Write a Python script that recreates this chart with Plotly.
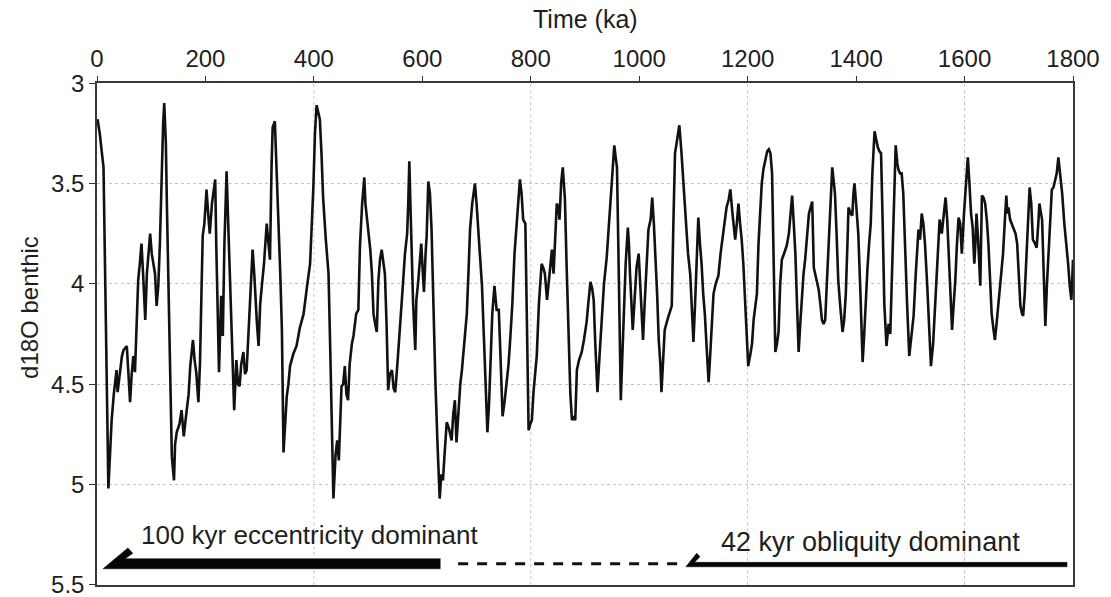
import plotly.graph_objects as go

# ---- data: benthic d18O record ----
time_ka = [1, 5, 12, 17, 21, 24, 27, 31, 36, 38, 42, 46, 49, 55, 58, 61, 64, 67, 70, 73, 76, 79, 82, 85, 89, 92, 95, 98, 101, 103, 107, 110, 113, 116, 119, 122, 124, 127, 129, 131, 134, 138, 142, 144, 147, 152, 156, 160, 165, 169, 172, 177, 180, 183, 187, 190, 193, 195, 198, 202, 205, 208, 212, 215, 218, 220, 223, 225, 229, 232, 235, 239, 242, 245, 249, 253, 257, 260, 263, 266, 270, 273, 276, 280, 284, 287, 290, 292, 295, 298, 301, 304, 308, 313, 316, 319, 322, 324, 328, 331, 334, 338, 341, 344, 347, 350, 353, 356, 362, 368, 374, 381, 387, 393, 399, 402, 405, 408, 411, 414, 417, 422, 427, 430, 433, 436, 440, 443, 446, 449, 451, 454, 457, 460, 463, 466, 470, 473, 478, 482, 485, 489, 493, 495, 498, 501, 504, 507, 510, 513, 516, 519, 522, 525, 528, 531, 534, 537, 540, 544, 547, 550, 554, 559, 563, 568, 572, 574, 576, 578, 580, 583, 587, 589, 592, 595, 598, 601, 603, 606, 608, 611, 614, 617, 620, 624, 628, 632, 635, 638, 641, 645, 649, 654, 657, 660, 663, 667, 670, 673, 677, 682, 685, 688, 692, 697, 700, 703, 707, 710, 714, 717, 720, 723, 725, 727, 729, 733, 737, 741, 744, 748, 752, 755, 759, 762, 766, 770, 775, 780, 783, 786, 790, 793, 796, 799, 802, 805, 808, 811, 815, 820, 823, 826, 830, 834, 839, 842, 845, 848, 851, 853, 856, 859, 861, 863, 866, 870, 873, 876, 879, 882, 885, 889, 894, 898, 903, 906, 910, 913, 916, 919, 923, 927, 931, 935, 940, 943, 946, 950, 954, 957, 959, 962, 966, 969, 972, 975, 979, 981, 983, 986, 988, 991, 995, 999, 1003, 1007, 1010, 1014, 1017, 1021, 1024, 1027, 1030, 1033, 1036, 1039, 1041, 1044, 1047, 1052, 1056, 1060, 1063, 1066, 1070, 1074, 1078, 1082, 1086, 1090, 1094, 1097, 1100, 1103, 1106, 1109, 1112, 1115, 1118, 1121, 1124, 1128, 1131, 1134, 1137, 1141, 1146, 1150, 1155, 1158, 1161, 1165, 1168, 1172, 1177, 1180, 1183, 1186, 1189, 1192, 1194, 1198, 1201, 1205, 1208, 1211, 1214, 1217, 1220, 1223, 1226, 1229, 1233, 1236, 1239, 1242, 1245, 1248, 1251, 1254, 1257, 1260, 1263, 1267, 1272, 1276, 1279, 1282, 1285, 1288, 1291, 1294, 1297, 1300, 1303, 1306, 1310, 1313, 1316, 1319, 1322, 1326, 1331, 1334, 1337, 1340, 1343, 1346, 1349, 1352, 1356, 1359, 1361, 1364, 1367, 1371, 1375, 1378, 1381, 1384, 1386, 1390, 1393, 1395, 1397, 1400, 1404, 1408, 1412, 1415, 1418, 1421, 1424, 1427, 1430, 1434, 1437, 1440, 1443, 1446, 1449, 1452, 1456, 1460, 1463, 1467, 1470, 1473, 1476, 1478, 1481, 1484, 1487, 1490, 1494, 1498, 1502, 1506, 1510, 1515, 1518, 1521, 1524, 1527, 1531, 1535, 1538, 1542, 1546, 1550, 1554, 1558, 1562, 1565, 1568, 1571, 1574, 1577, 1580, 1583, 1586, 1589, 1592, 1595, 1599, 1603, 1606, 1609, 1612, 1615, 1618, 1620, 1622, 1625, 1629, 1632, 1635, 1638, 1641, 1644, 1646, 1650, 1653, 1656, 1659, 1662, 1665, 1668, 1671, 1674, 1677, 1679, 1681, 1684, 1687, 1690, 1694, 1697, 1700, 1703, 1706, 1708, 1711, 1714, 1717, 1720, 1723, 1726, 1730, 1733, 1736, 1738, 1741, 1743, 1746, 1749, 1752, 1755, 1758, 1761, 1764, 1767, 1770, 1773, 1776, 1780, 1784, 1788, 1791, 1794, 1797, 1799, 1800]
d18o = [3.18, 3.25, 3.42, 4.3, 5.02, 4.85, 4.68, 4.55, 4.43, 4.54, 4.45, 4.36, 4.33, 4.31, 4.45, 4.59, 4.45, 4.36, 4.44, 4.2, 3.98, 3.9, 3.8, 3.95, 4.18, 3.95, 3.85, 3.75, 3.85, 3.88, 3.95, 4.11, 4.01, 3.8, 3.48, 3.2, 3.1, 3.3, 3.62, 3.9, 4.3, 4.86, 4.98, 4.8, 4.74, 4.7, 4.63, 4.76, 4.64, 4.55, 4.41, 4.28, 4.38, 4.44, 4.59, 4.39, 4.0, 3.76, 3.7, 3.53, 3.65, 3.75, 3.6, 3.55, 3.48, 3.81, 4.28, 4.44, 4.06, 4.26, 3.8, 3.44, 3.7, 3.98, 4.3, 4.63, 4.38, 4.5, 4.51, 4.4, 4.34, 4.45, 4.43, 4.2, 3.95, 3.83, 3.95, 4.06, 4.2, 4.31, 4.1, 4.01, 3.9, 3.7, 3.78, 3.88, 3.4, 3.22, 3.19, 3.4, 3.65, 3.95, 4.23, 4.84, 4.7, 4.56, 4.5, 4.41, 4.35, 4.31, 4.22, 4.15, 4.02, 3.9, 3.52, 3.25, 3.11, 3.15, 3.18, 3.35, 3.57, 3.78, 3.95, 4.31, 4.7, 5.07, 4.85, 4.78, 4.88, 4.7, 4.51, 4.5, 4.41, 4.55, 4.58, 4.4, 4.3, 4.26, 4.15, 4.13, 3.81, 3.6, 3.47, 3.6, 3.68, 3.75, 3.83, 3.95, 4.15, 4.2, 4.24, 3.98, 3.88, 3.83, 3.9, 3.95, 4.2, 4.53, 4.45, 4.43, 4.52, 4.54, 4.4, 4.23, 4.05, 3.85, 3.75, 3.6, 3.39, 3.6, 3.81, 4.1, 4.33, 4.08, 4.0, 3.9, 3.8, 3.95, 4.04, 3.85, 3.76, 3.49, 3.55, 3.73, 4.1, 4.48, 4.8, 5.07, 4.95, 4.98, 4.85, 4.69, 4.72, 4.78, 4.65, 4.58, 4.79, 4.6, 4.5, 4.43, 4.3, 4.15, 3.95, 3.73, 3.6, 3.5, 3.6, 3.73, 3.9, 4.01, 4.3, 4.55, 4.74, 4.6, 4.48, 4.3, 4.15, 4.01, 4.13, 4.13, 4.35, 4.66, 4.58, 4.51, 4.4, 4.28, 4.1, 3.85, 3.65, 3.48, 3.55, 3.68, 3.7, 4.2, 4.73, 4.7, 4.68, 4.54, 4.45, 4.36, 4.1, 3.9, 3.92, 3.95, 4.08, 3.95, 3.83, 3.95, 3.75, 3.6, 3.62, 3.68, 3.5, 3.42, 3.5, 3.58, 3.9, 4.31, 4.55, 4.68, 4.66, 4.68, 4.43, 4.38, 4.34, 4.28, 4.19, 4.1, 3.99, 4.02, 4.08, 4.3, 4.54, 4.35, 4.15, 4.0, 3.87, 3.75, 3.6, 3.45, 3.31, 3.38, 3.42, 3.9, 4.58, 4.35, 4.11, 3.9, 3.72, 3.8, 3.95, 4.1, 4.23, 4.1, 3.92, 3.85, 4.05, 4.28, 4.1, 3.85, 3.73, 3.68, 3.57, 3.7, 3.85, 4.05, 4.28, 4.4, 4.54, 4.35, 4.23, 4.18, 4.15, 4.11, 3.7, 3.35, 3.28, 3.21, 3.35, 3.53, 3.7, 3.85, 3.95, 4.1, 4.29, 4.1, 3.85, 3.67, 3.8, 3.9, 4.05, 4.15, 4.3, 4.49, 4.35, 4.2, 4.05, 4.0, 3.96, 3.85, 3.75, 3.7, 3.62, 3.58, 3.53, 3.65, 3.78, 3.7, 3.6, 3.7, 3.78, 3.9, 4.01, 4.25, 4.41, 4.35, 4.3, 4.18, 4.1, 4.05, 3.8, 3.65, 3.5, 3.43, 3.38, 3.34, 3.33, 3.35, 3.45, 3.9, 4.34, 4.3, 4.24, 4.0, 3.88, 3.85, 3.81, 3.75, 3.65, 3.56, 3.7, 3.85, 4.1, 4.34, 4.2, 4.05, 3.95, 3.88, 3.75, 3.65, 3.62, 3.59, 3.92, 3.97, 4.03, 4.1, 4.18, 4.2, 4.18, 4.0, 3.85, 3.65, 3.42, 3.5, 3.55, 3.75, 3.98, 4.12, 4.24, 4.18, 4.05, 3.8, 3.62, 3.65, 3.66, 3.55, 3.5, 3.6, 3.75, 4.05, 4.39, 4.25, 4.05, 3.92, 3.8, 3.7, 3.45, 3.24, 3.28, 3.32, 3.34, 3.35, 3.7, 4.1, 4.31, 4.2, 4.25, 3.85, 3.5, 3.31, 3.4, 3.43, 3.45, 3.45, 3.55, 3.83, 4.1, 4.36, 4.25, 4.16, 3.95, 3.73, 3.78, 3.65, 3.7, 3.8, 4.0, 4.25, 4.41, 4.3, 4.1, 3.85, 3.68, 3.75, 3.65, 3.57, 3.68, 3.85, 4.05, 4.23, 4.1, 3.98, 3.8, 3.67, 3.7, 3.85, 3.65, 3.48, 3.37, 3.5, 3.65, 3.72, 3.9, 3.8, 3.65, 3.78, 4.01, 3.56, 3.57, 3.6, 3.68, 3.8, 3.9, 4.15, 4.22, 4.28, 4.2, 4.11, 4.0, 3.9, 3.85, 3.7, 3.56, 3.65, 3.62, 3.68, 3.7, 3.72, 3.75, 3.8, 3.95, 4.11, 4.15, 4.16, 4.05, 3.85, 3.65, 3.52, 3.6, 3.78, 3.8, 3.82, 3.7, 3.6, 3.65, 3.68, 3.95, 4.21, 4.0, 3.82, 3.7, 3.53, 3.52, 3.48, 3.45, 3.37, 3.45, 3.55, 3.7, 3.8, 3.9, 4.01, 4.08, 3.95, 3.88]

x_ticks = [0, 200, 400, 600, 800, 1000, 1200, 1400, 1600, 1800]
y_ticks = [3, 3.5, 4, 4.5, 5, 5.5]
y_tick_text = ["3", "3.5", "4", "4.5", "5", "5.5"]
x_grid = [400, 800, 1200, 1600]

label_ecc = "100 kyr eccentricity dominant"
label_obl = "42 kyr obliquity dominant"
x_title = "Time (ka)"
y_title = "d18O benthic"

# arrow geometry (data units)
ecc = dict(x_start=633, x_tip=11, x_barb=57, x_barb_r=66, x_join=52, y_top=5.37, y_bot=5.42, y_barb=5.316, y_barb_r=5.343)
obl = dict(x_start=1789, x_tip=1086, x_barb=1106, x_barb_r=1112, x_join=1102, y_top=5.388, y_bot=5.41, y_barb=5.342, y_barb_r=5.36)
dash_seg = dict(x0=666, x1=1075, y=5.395)

FONT = "Liberation Sans, Arial, sans-serif"
INK = "#1e1e1e"

fig = go.Figure()
fig.add_trace(go.Scatter(x=time_ka, y=d18o, mode="lines",
                         line=dict(color="#111111", width=2.6),
                         hoverinfo="x+y", showlegend=False))

def arrow_path(a):
    pts = [(a["x_tip"], a["y_bot"]), (a["x_barb"], a["y_barb"]), (a["x_barb_r"], a["y_barb_r"]),
           (a["x_join"], a["y_top"]), (a["x_start"], a["y_top"]), (a["x_start"], a["y_bot"])]
    return "M " + " L ".join(f"{x},{y}" for x, y in pts) + " Z"

shapes = []
for gx in x_grid:
    shapes.append(dict(type="line", xref="x", yref="paper", x0=gx, x1=gx, y0=0, y1=1,
                       line=dict(color="#c4c4c4", width=1, dash="dot"), layer="below"))
for a in (ecc, obl):
    shapes.append(dict(type="path", xref="x", yref="y", path=arrow_path(a),
                       fillcolor="#050505", line=dict(color="#050505", width=0.5)))
shapes.append(dict(type="line", xref="x", yref="y", x0=dash_seg["x0"], x1=dash_seg["x1"],
                   y0=dash_seg["y"], y1=dash_seg["y"],
                   line=dict(color="#111111", width=3, dash="10px,9px")))

annotations = [
    dict(text=label_ecc, x=391, y=5.251, xref="x", yref="y", showarrow=False,
         font=dict(family=FONT, size=26, color=INK)),
    dict(text=label_obl, x=1426, y=5.287, xref="x", yref="y", showarrow=False,
         font=dict(family=FONT, size=27, color=INK)),
    dict(text=x_title, x=0.5, y=1.127, xref="paper", yref="paper", showarrow=False,
         font=dict(family=FONT, size=25, color=INK), yanchor="middle"),
    dict(text=y_title, x=-0.0686, y=0.552, xref="paper", yref="paper", showarrow=False,
         textangle=-90, font=dict(family=FONT, size=24, color=INK), xanchor="center", yanchor="middle"),
]

fig.update_layout(
    width=1111, height=597,
    margin=dict(l=97, r=38, t=83, b=12, autoexpand=False),
    paper_bgcolor="white", plot_bgcolor="white",
    font=dict(family=FONT, size=24, color=INK),
    shapes=shapes, annotations=annotations,
    xaxis=dict(side="top", range=[0, 1800], tickvals=x_ticks, ticks="outside", ticklen=5,
               tickcolor="#333", showline=True, linecolor="#3a3a3a", linewidth=1.5, mirror=True,
               showgrid=False, zeroline=False, tickfont=dict(size=24)),
    yaxis=dict(range=[5.5008, 2.9995], tickvals=y_ticks, ticktext=y_tick_text, ticks="outside", ticklen=6,
               tickcolor="#333", showline=True, linecolor="#3a3a3a", linewidth=1.5, mirror=True,
               showgrid=True, gridcolor="#c4c4c4", griddash="dot", gridwidth=1, zeroline=False,
               tickfont=dict(size=24), ticklabeloverflow="allow"),
)

fig.write_html("out.html")
